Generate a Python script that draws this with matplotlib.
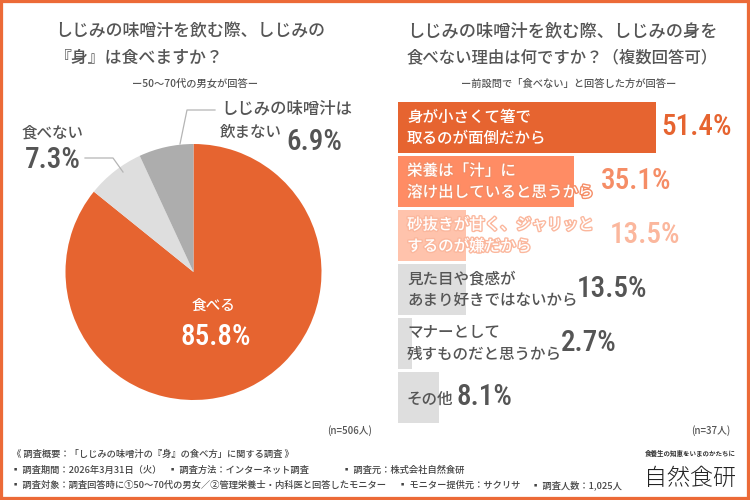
import matplotlib
matplotlib.use("Agg")
import matplotlib.pyplot as plt
import matplotlib.patheffects as pe
from matplotlib.lines import Line2D
from matplotlib.patches import Rectangle

plt.rcParams['font.family'] = ['Noto Sans CJK JP', 'DejaVu Sans']

W, H = 750, 500
DARK = "#555555"
ORANGE = "#E66430"

pie_labels = ["食べる", "食べない", "しじみの味噌汁は\n飲まない"]
pie_values = [85.8, 7.3, 6.9]
pie_colors = [ORANGE, "#DEDEDE", "#ADADAD"]

reasons = ["身が小さくて箸で\n取るのが面倒だから",
           "栄養は「汁」に\n溶け出していると思うから",
           "砂抜きが甘く、ジャリッと\nするのが嫌だから",
           "見た目や食感が\nあまり好きではないから",
           "マナーとして\n残すものだと思うから",
           "その他"]
reason_values = [51.4, 35.1, 13.5, 13.5, 2.7, 8.1]
bar_colors = [ORANGE, "#FF8C64", "#FFC3AC", "#DEDEDE", "#DEDEDE", "#DEDEDE"]
value_colors = [ORANGE, "#F58D66", "#FBB79D", DARK, DARK, DARK]
value_x = [661, 601, 610, 577, 561, 456]


def put(x, y, s, size, color=DARK, weight="medium", ha="left", **kw):
    # x, y in reference pixels, y from the top
    return fig.text(x / W, 1 - y / H, s, fontsize=size, color=color, fontweight=weight,
                    ha=ha, va="center", **kw)


def number(x, y, s, size=21, color=DARK):
    return put(x, y, s, size, color=color, weight=500, family=["Roboto Condensed"])


def leader(xs, ys):
    fig.add_artist(Line2D([x / W for x in xs], [1 - y / H for y in ys], color="#B5B5B5", lw=0.9))


fig = plt.figure(figsize=(W / 100, H / 100), dpi=100, facecolor="white")
fig.add_artist(Rectangle((0, 0), 1, 1, transform=fig.transFigure, fill=False, ec="#EC6A37", lw=4.5))

# pie
ax1 = fig.add_axes([65 / W, 1 - 400 / H, 257 / W, 256 / H])
ax1.pie(pie_values, colors=pie_colors, startangle=90, counterclock=False, radius=1)
ax1.set_xlim(-1, 1)
ax1.set_ylim(-1, 1)

put(55, 31, "しじみの味噌汁を飲む際、しじみの", 12.2)
put(55, 58, "『身』は食べますか？", 12.2)
put(132, 84, "ー50～70代の男女が回答ー", 7.4)

put(214, 306, pie_labels[0], 10.5, color="white", ha="center", )
number(180, 337, "%.1f%%" % pie_values[0], color="white")
put(22, 133, pie_labels[1], 11.2)
number(25, 160, "%.1f%%" % pie_values[1])
first, second = pie_labels[2].split("\n")
put(221, 109, first, 11.8)
put(220, 132, second, 11.2)
number(286, 142, "%.1f%%" % pie_values[2])
leader([85, 113, 123], [158, 158, 172])
leader([215, 187, 180], [110, 110, 144])
put(372, 431, "(n=506人)", 7, ha="right")

# bars
ax2 = fig.add_axes([398 / W, 1 - 424.5 / H, 302 / W, 324 / H])
ax2.barh(range(len(reasons)), reason_values, height=51 / 54, color=bar_colors)
ax2.set_xlim(0, 302 / 5.02)
ax2.set_ylim(5.5, -0.5)
ax2.axis("off")

put(407, 31, "しじみの味噌汁を飲む際、しじみの身を", 12.4)
put(407, 58, "食べない理由は何ですか？（複数回答可）", 11.8)
put(461, 84, "ー前設問で「食べない」と回答した方が回答ー", 7.4)

label_styles = [("white", None), ("white", "#F58D66"), ("white", "#FBB79D"),
                (DARK, None), (DARK, None), (DARK, None)]
for i, (reason, value) in enumerate(zip(reasons, reason_values)):
    yc = 127.5 + 54 * i
    color, stroke = label_styles[i]
    lines = reason.split("\n")
    offsets = [0] if len(lines) == 1 else [-10.5, 11]
    for line, off in zip(lines, offsets):
        t = put(407, yc + off + (2 if len(lines) == 1 else 0), line, 11.2, color=color)
        if stroke:
            t.set_path_effects([pe.withStroke(linewidth=2, foreground=stroke)])
    number(value_x[i], yc - 0.5, "%.1f%%" % value, color=value_colors[i])

put(730, 431, "(n=37人)", 7, ha="right")

# footer
put(12, 454, "《 調査概要：「しじみの味噌汁の『身』の食べ方」に関する調査 》", 6.7, color="#444444")
put(11, 470, "▪ 調査期間：2026年3月31日（火）", 6.7, color="#444444")
put(168, 470, "▪ 調査方法：インターネット調査", 6.7, color="#444444")
put(342, 470, "▪ 調査元：株式会社自然食研", 6.7, color="#444444")
put(11, 485, "▪ 調査対象：調査回答時に①50～70代の男女／②管理栄養士・内科医と回答したモニター", 6.7, color="#444444")
put(398, 485, "▪ モニター提供元：サクリサ", 6.7, color="#444444")
put(531, 485, "▪ 調査人数：1,025人", 6.7, color="#444444")
put(645, 453, "食養生の知恵をいまのかたちに", 4.7, color="#333333", weight="bold")
put(644, 478, "自然食研", 16.6, color="#222222", weight="light")

fig.savefig("out.png", dpi=100)
